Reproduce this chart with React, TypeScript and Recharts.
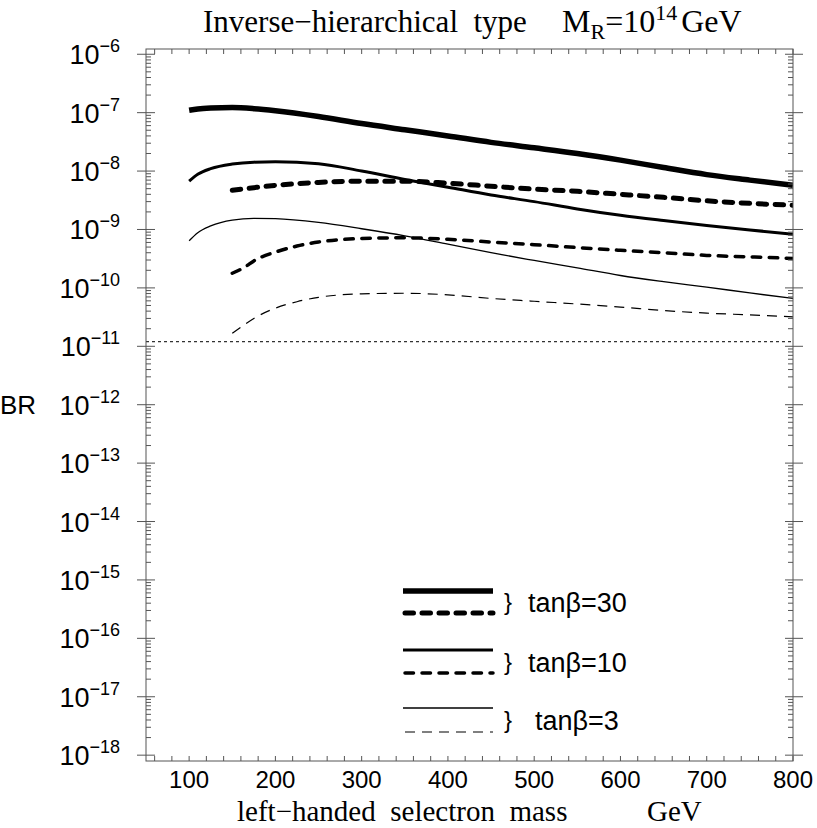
import React from "react"
import { LineChart, Line, XAxis, YAxis, ReferenceLine } from "recharts"

// selectron masses (GeV)
const MASS_SOLID = [100, 110, 125, 150, 175, 200, 250, 300, 350, 400, 450, 500, 550, 600, 650, 700, 750, 800]
const MASS_DASHED = [150, 165, 175, 200, 225, 250, 300, 350, 400, 450, 500, 550, 600, 650, 700, 750, 800]

// BR values
const BR_TB30_SOLID = [1.1e-7, 1.16e-7, 1.2e-7, 1.22e-7, 1.17e-7, 1.08e-7, 8.6e-8, 6.5e-8, 5.1e-8, 4.0e-8, 3.1e-8, 2.5e-8, 2.0e-8, 1.54e-8, 1.15e-8, 8.7e-9, 7.0e-9, 5.7e-9]
const BR_TB10_SOLID = [6.7e-9, 8.8e-9, 1.1e-8, 1.32e-8, 1.42e-8, 1.44e-8, 1.34e-8, 1.0e-8, 7.2e-9, 5.3e-9, 3.9e-9, 3.0e-9, 2.25e-9, 1.75e-9, 1.42e-9, 1.17e-9, 9.8e-10, 8.3e-10]
const BR_TB3_SOLID = [6.4e-10, 8.8e-10, 1.15e-9, 1.45e-9, 1.55e-9, 1.53e-9, 1.32e-9, 1.03e-9, 7.8e-10, 5.6e-10, 4.0e-10, 2.95e-10, 2.2e-10, 1.63e-10, 1.28e-10, 1.03e-10, 8.2e-11, 6.6e-11]
const BR_TB30_DASHED = [4.7e-9, 5.0e-9, 5.2e-9, 5.7e-9, 6.1e-9, 6.4e-9, 6.7e-9, 6.7e-9, 6.2e-9, 5.5e-9, 4.9e-9, 4.5e-9, 4.0e-9, 3.55e-9, 3.1e-9, 2.8e-9, 2.6e-9]
const BR_TB10_DASHED = [1.78e-10, 2.3e-10, 2.9e-10, 4.1e-10, 5.2e-10, 6.1e-10, 7.0e-10, 7.2e-10, 6.8e-10, 6.1e-10, 5.5e-10, 4.9e-10, 4.4e-10, 4.0e-10, 3.6e-10, 3.4e-10, 3.2e-10]
const BR_TB3_DASHED = [1.67e-11, 2.4e-11, 3.0e-11, 4.5e-11, 5.8e-11, 6.9e-11, 7.9e-11, 8.1e-11, 7.6e-11, 6.6e-11, 5.9e-11, 5.3e-11, 4.7e-11, 4.1e-11, 3.7e-11, 3.45e-11, 3.2e-11]

const EXP_BOUND = 1.2e-11

const X_TICKS_MAJOR = [100, 200, 300, 400, 500, 600, 700, 800]
const X_MINOR_STEP = 20
const Y_EXPONENTS = [-18, -17, -16, -15, -14, -13, -12, -11, -10, -9, -8, -7, -6]
const Y_MINOR_MULT = [2, 3, 4, 5, 6, 7, 8, 9]

const LEGEND_LABELS = ["tanβ=30", "tanβ=10", "tanβ=3"]

const X_DOMAIN = [50, 800]
const Y_DOMAIN = [Math.pow(10, -18.1), Math.pow(10, -5.91)]

// layout
const W = 817
const H = 828
const L = 146
const R = 793
const T = 49
const B = 761
const AXIS_W = 60
const AXIS_H = 50
const AXIS = "#555"
const SANS = "'Liberation Sans', Arial, Helvetica, sans-serif"
const SERIF = "'Liberation Serif', 'Times New Roman', serif"

const toPoints = (xs: number[], ys: number[]) => xs.map((m, i) => ({ m, br: ys[i] }))

const series = [
  { key: "tb30s", data: toPoints(MASS_SOLID, BR_TB30_SOLID), width: 5.5, dash: undefined, cap: "butt" },
  { key: "tb30d", data: toPoints(MASS_DASHED, BR_TB30_DASHED), width: 5, dash: "8.5 8.5", cap: "round" },
  { key: "tb10s", data: toPoints(MASS_SOLID, BR_TB10_SOLID), width: 3, dash: undefined, cap: "butt" },
  { key: "tb10d", data: toPoints(MASS_DASHED, BR_TB10_DASHED), width: 3.5, dash: "8.5 8.5", cap: "round" },
  { key: "tb3s", data: toPoints(MASS_SOLID, BR_TB3_SOLID), width: 1.3, dash: undefined, cap: "butt" },
  { key: "tb3d", data: toPoints(MASS_DASHED, BR_TB3_DASHED), width: 1.2, dash: "10 7", cap: "butt" },
]

const xTicks: number[] = []
for (let v = 60; v <= 800; v += X_MINOR_STEP) xTicks.push(v)

const yTicks: number[] = []
Y_EXPONENTS.forEach((e) => {
  yTicks.push(Math.pow(10, e))
  if (e < -6) Y_MINOR_MULT.forEach((k) => yTicks.push(k * Math.pow(10, e)))
})

const XTick = (props: any) => {
  const { x, payload } = props
  const v = payload.value
  const major = X_TICKS_MAJOR.includes(v)
  return (
    <g>
      <line x1={x} x2={x} y1={B} y2={B - 5} stroke={AXIS} strokeWidth={1} />
      <line x1={x} x2={x} y1={T} y2={T + 5} stroke={AXIS} strokeWidth={1} />
      {major && (
        <text x={x} y={788} textAnchor="middle" fontFamily={SANS} fontSize={24} fill="#000">
          {v}
        </text>
      )}
    </g>
  )
}

const YTick = (props: any) => {
  const { y, payload } = props
  const lg = Math.log10(payload.value)
  const e = Math.round(lg)
  const major = Math.abs(lg - e) < 1e-6
  if (!major) {
    return (
      <g>
        <line x1={L} x2={L + 5} y1={y} y2={y} stroke={AXIS} strokeWidth={1} />
        <line x1={R} x2={R - 5} y1={y} y2={y} stroke={AXIS} strokeWidth={1} />
      </g>
    )
  }
  return (
    <g>
      <line x1={L - 9} x2={L + 9} y1={y} y2={y} stroke={AXIS} strokeWidth={1} />
      <line x1={R - 8} x2={R + 10} y1={y} y2={y} stroke={AXIS} strokeWidth={1} />
      <text x={120} y={y + 10} textAnchor="end" fontFamily={SANS} fontSize={27} fill="#000">
        <tspan>10</tspan>
        <tspan dy={-12} fontSize={18}>{`−${-e}`}</tspan>
      </text>
    </g>
  )
}

export default function App() {
  const legendRows = [0, 1, 2]
  const legendTop = [591, 650, 708]
  const legendGap = [22, 23, 24]
  return (
    <div style={{ position: "absolute", left: 0, top: 0, width: W, height: H, background: "#fff" }}>
      <LineChart
        width={W}
        height={H}
        margin={{ top: T, right: W - R, bottom: H - B - AXIS_H, left: L - AXIS_W }}
      >
        <XAxis
          dataKey="m"
          type="number"
          domain={X_DOMAIN}
          ticks={xTicks}
          interval={0}
          height={AXIS_H}
          axisLine={false}
          tickLine={false}
          tick={(p: any) => <XTick {...p} />}
          allowDataOverflow
        />
        <YAxis
          dataKey="br"
          type="number"
          scale="log"
          domain={Y_DOMAIN}
          ticks={yTicks}
          interval={0}
          width={AXIS_W}
          axisLine={false}
          tickLine={false}
          tick={(p: any) => <YTick {...p} />}
          allowDataOverflow
        />
        <ReferenceLine y={EXP_BOUND} stroke="#333" strokeWidth={1.2} strokeDasharray="3 3" />
        {series.map((s) => (
          <Line
            key={s.key}
            data={s.data}
            dataKey="br"
            type="monotone"
            stroke="#000"
            strokeWidth={s.width}
            strokeDasharray={s.dash}
            strokeLinecap={s.cap as any}
            dot={false}
            isAnimationActive={false}
          />
        ))}
      </LineChart>
      <svg width={W} height={H} style={{ position: "absolute", left: 0, top: 0, pointerEvents: "none" }}>
        <rect x={L} y={T} width={R - L} height={B - T} fill="none" stroke={AXIS} strokeWidth={1} />
        <text x={203} y={32} fontFamily={SERIF} fontSize={31} fill="#000" style={{ whiteSpace: "pre" }}>
          Inverse−hierarchical  type
        </text>
        <text x={562} y={32} fontFamily={SERIF} fontSize={32} fill="#000">
          <tspan>M</tspan>
          <tspan dy={7} fontSize={22}>R</tspan>
          <tspan dy={-7}>=10</tspan>
          <tspan dy={-12} fontSize={22}>14</tspan>
          <tspan dy={12} dx={4}>GeV</tspan>
        </text>
        <text x={237} y={821} fontFamily={SERIF} fontSize={29} fill="#000" style={{ whiteSpace: "pre" }}>
          left−handed  selectron  mass
        </text>
        <text x={647} y={821} fontFamily={SERIF} fontSize={29} fill="#000">
          GeV
        </text>
        <text x={0} y={414} fontFamily={SANS} fontSize={26} fill="#000">
          BR
        </text>
        {legendRows.map((r) => {
          const solid = series[r * 2]
          const dashed = series[r * 2 + 1]
          const y1 = legendTop[r]
          const y2 = y1 + legendGap[r]
          return (
            <g key={r}>
              <line x1={403} x2={493} y1={y1} y2={y1} stroke="#000" strokeWidth={solid.width} />
              <line
                x1={405}
                x2={493}
                y1={y2}
                y2={y2}
                stroke="#000"
                strokeWidth={dashed.width}
                strokeDasharray={dashed.dash}
                strokeLinecap={dashed.cap as any}
              />
              <text x={504} y={(y1 + y2) / 2 + 8} fontFamily={SANS} fontSize={24} fill="#000">
                {"}"}
              </text>
              <text x={r === 2 ? 535 : 528} y={(y1 + y2) / 2 + 10} fontFamily={SANS} fontSize={27} fill="#000">
                {LEGEND_LABELS[r]}
              </text>
            </g>
          )
        })}
      </svg>
    </div>
  )
}
